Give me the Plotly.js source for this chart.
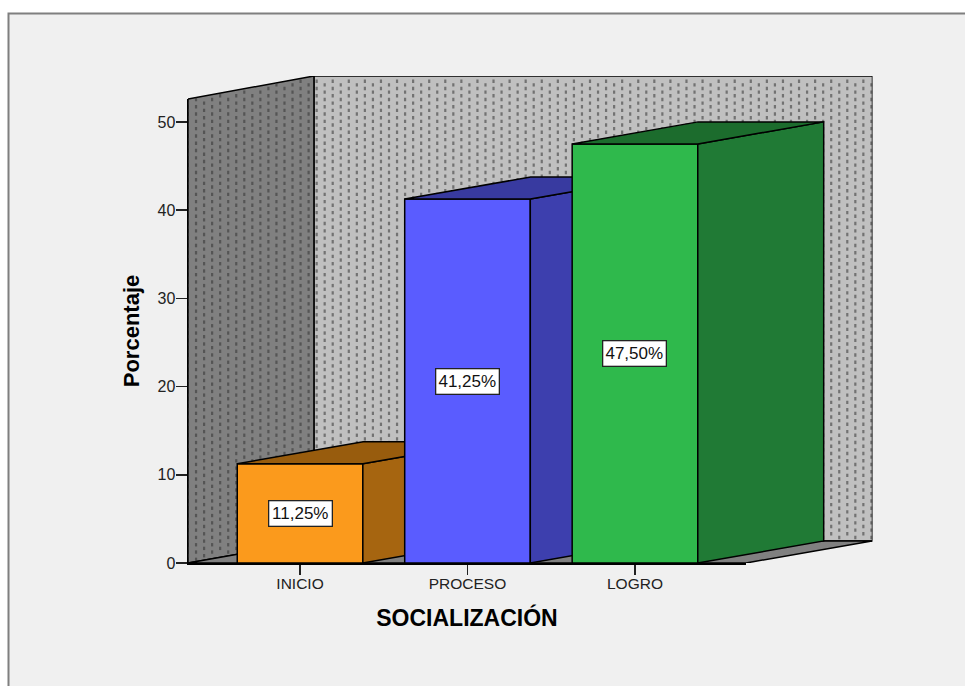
<!DOCTYPE html>
<html><head><meta charset="utf-8">
<script src="https://cdn.plot.ly/plotly-3.0.1.min.js"></script>
<style>html,body{margin:0;padding:0;background:#fff;overflow:hidden}</style>
</head><body><div id="chart" style="width:965px;height:686px"></div>
<script>
const categories = ['INICIO', 'PROCESO', 'LOGRO'];
const positions = [0, 1, 2];
const values = [11.25, 41.25, 47.5];
const labels = ['11,25%', '41,25%', '47,50%'];
const frontColors = ['#FB9A1C', '#5A5CFF', '#2FB94C'];
const sideColors = ['#A66510', '#3D3FAE', '#207A35'];
const topColors = ['#985C0D', '#383AA0', '#1C6C2D'];
const yTicks = [0, 10, 20, 30, 40, 50];

const W = 965, H = 686;
const barW = 0.75, depthX = 0.752, depthY = 2.5;
const xMin = -0.669, xMax = 2.663, yTop = 52.6, yWall = 55.2;
const xDom = [188 / W, 746 / W], yDom = [(H - 563) / H, (H - 99) / H];
const xDomOuter = [188 / W, 872.5 / W], yDomOuter = [(H - 563) / H, (H - 76) / H];
const xMaxOuter = xMin + (xMax - xMin) * (872.5 - 188) / (746 - 188);
const edge = {color: '#000', width: 1.5};
const font = 'Liberation Sans, Arial, sans-serif';

function poly(xs, ys, fill, ax) {
  return {type: 'scatter', mode: 'lines', x: xs.concat(xs[0]), y: ys.concat(ys[0]), fill: 'toself',
    fillcolor: fill, line: edge, hoverinfo: 'skip', showlegend: false, xaxis: 'x' + ax, yaxis: 'y' + ax};
}

const traces = [];
// baseline trace keeps the visible axes alive
traces.push({type: 'scatter', mode: 'lines', x: [xMin, xMax], y: [0, 0], line: edge, hoverinfo: 'skip', showlegend: false, xaxis: 'x', yaxis: 'y'});
// walls and floor
const backWall = poly([xMin + depthX, xMaxOuter, xMaxOuter, xMin + depthX], [depthY, depthY, yWall, yWall], '#C0C0C0', 2);
const leftWall = poly([xMin, xMin + depthX, xMin + depthX, xMin], [0, depthY, yWall, yTop], '#808080', 2);
traces.push(backWall, leftWall);
// dotted wall texture
const stepX = 8.04 * (xMaxOuter - xMin) / 684.5, stepY = 7.3 * yWall / 487;
const dotX = [], dotY = [];
for (let k = 0; k <= 85; k++) {
  const x = xMin + k * stepX, f = Math.min(1, (x - xMin) / depthX);
  const lo = f * depthY, hi = yTop + f * (yWall - yTop);
  for (let y = (k % 2) * stepY / 2; y < hi - 0.2; y += stepY) {
    if (y > lo + 0.2) { dotX.push(x); dotY.push(y); }
  }
}
traces.push({type: 'scatter', mode: 'markers', x: dotX, y: dotY, hoverinfo: 'skip', showlegend: false, xaxis: 'x2', yaxis: 'y2',
  marker: {symbol: 'line-ns', size: 2.4, line: {width: 2.2, color: 'rgba(50,50,50,0.55)'}}});
traces.push(poly([xMin, xMax, xMax + depthX, xMin + depthX], [0, 0, depthY, depthY], '#808080', 2));

const annotations = [];
const extraAxes = {};
function hiddenAxes(n) {
  extraAxes['xaxis' + n] = {domain: xDomOuter, range: [xMin, xMaxOuter], visible: false, fixedrange: true, anchor: 'y' + n};
  extraAxes['yaxis' + n] = {domain: yDomOuter, range: [0, yWall], visible: false, fixedrange: true, anchor: 'x' + n};
}
hiddenAxes(2);
categories.forEach((c, i) => {
  const ax = i + 3, p = positions[i], v = values[i], l = p - barW / 2, r = p + barW / 2;
  hiddenAxes(ax);
  traces.push({type: 'bar', x: [p], y: [v], width: barW, name: c, showlegend: false, hoverinfo: 'skip',
    marker: {color: frontColors[i], line: edge}, xaxis: 'x' + ax, yaxis: 'y' + ax});
  traces.push(poly([r, r + depthX, r + depthX, r], [0, depthY, v + depthY, v], sideColors[i], ax));
  traces.push(poly([l, r, r + depthX, l + depthX], [v, v, v + depthY, v + depthY], topColors[i], ax));
  annotations.push({xref: 'x' + ax, yref: 'y' + ax, x: p, y: v / 2, text: labels[i], showarrow: false, width: 60, height: 22,
    bgcolor: '#fff', bordercolor: '#222', borderwidth: 1.3, borderpad: 1, font: {family: font, size: 17, color: '#111'}});
});

const layout = Object.assign({
  width: W, height: H, margin: {l: 0, r: 0, t: 0, b: 0}, paper_bgcolor: '#fff', plot_bgcolor: 'rgba(0,0,0,0)',
  showlegend: false, dragmode: false, barmode: 'overlay',
  font: {family: font, color: '#222'},
  shapes: [{type: 'rect', xref: 'paper', yref: 'paper', layer: 'below', x0: 8.5 / W, x1: 1.02, y0: -0.02, y1: (H - 13.5) / H,
    fillcolor: '#F0F0F0', line: {color: '#7F7F7F', width: 2}}],
  annotations,
  xaxis: {domain: xDom, range: [xMin, xMax], anchor: 'y', tickmode: 'array', tickvals: positions, ticktext: categories,
    ticks: 'outside', ticklen: 10, tickwidth: 1.5, tickcolor: '#222', ticklabelstandoff: -4, showgrid: false, zeroline: false, showline: true,
    linecolor: '#000', linewidth: 1.5, fixedrange: true, tickfont: {family: font, size: 15.5, color: '#222'},
    title: {text: 'SOCIALIZACIÓN', standoff: 19, font: {family: font, size: 23, color: '#000', weight: 'bold'}}},
  yaxis: {domain: yDom, range: [0, yTop], anchor: 'x', tickmode: 'array', tickvals: yTicks,
    ticks: 'outside', ticklen: 11, tickwidth: 1.5, tickcolor: '#222', ticklabelstandoff: -3, showgrid: false, zeroline: false, showline: true,
    linecolor: '#000', linewidth: 1.5, fixedrange: true, tickfont: {family: font, size: 16, color: '#222'},
    title: {text: 'Porcentaje', standoff: 12, font: {family: font, size: 22, color: '#000', weight: 'bold'}}}
}, extraAxes);

Plotly.newPlot('chart', traces, layout, {displayModeBar: false, staticPlot: true});
</script></body></html>
